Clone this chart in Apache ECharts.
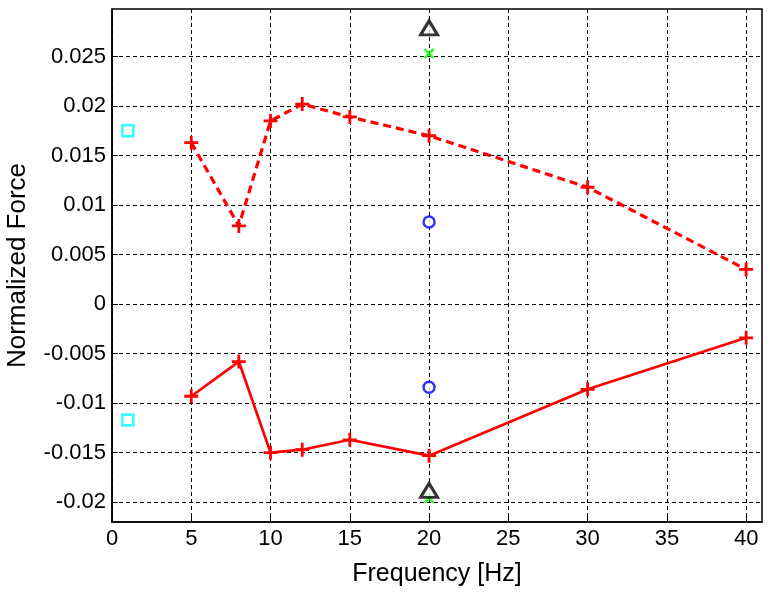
<!DOCTYPE html>
<html>
<head>
<meta charset="utf-8">
<script src="https://cdn.jsdelivr.net/npm/echarts@6/dist/echarts.min.js"></script>
<style>html,body{margin:0;padding:0;background:#fff;}#c{width:773px;height:595px;}</style>
</head>
<body>
<div id="c"></div>
<script>
const freqs = [5, 8, 10, 12, 15, 20, 30, 40];
const upperDashed = [0.0163, 0.0079, 0.0185, 0.0202, 0.0189, 0.0170, 0.0118, 0.0035];
const lowerSolid = [-0.0093, -0.0058, -0.0150, -0.0147, -0.0137, -0.0153, -0.0086, -0.0034];
const squarePts = [[1, 0.0175], [1, -0.0117]];
const circlePts = [[20, 0.0083], [20, -0.0084]];
const greenPts = [[20, 0.0253], [20, -0.0196]];
const trianglePts = [[20, 0.0279], [20, -0.0188]];
const xTicks = [0, 5, 10, 15, 20, 25, 30, 35, 40];
const yTicks = [-0.02, -0.015, -0.01, -0.005, 0, 0.005, 0.01, 0.015, 0.02, 0.025];

const FONT = 'Liberation Sans';
const plusPath = 'path://M4,0H6V4H10V6H6V10H4V6H0V4H4Z';
const crossPath = 'path://M0,1.7L1.7,0L5,3.3L8.3,0L10,1.7L6.7,5L10,8.3L8.3,10L5,6.7L1.7,10L0,8.3L3.3,5Z';
const fmt = v => String(parseFloat(Number(v).toFixed(4)));

const chart = echarts.init(document.getElementById('c'));
chart.setOption({
  animation: false,
  backgroundColor: '#fff',
  grid: { left: 112, right: 11, top: 9, bottom: 73, containLabel: false, outerBoundsMode: 'none',
          show: true, borderColor: '#000', borderWidth: 1.5, backgroundColor: 'transparent' },
  xAxis: {
    type: 'value', min: 0, max: 41,
    name: 'Frequency [Hz]', nameLocation: 'middle', nameGap: 40, nameMoveOverlap: false,
    nameTextStyle: { fontFamily: FONT, fontSize: 25, color: '#000' },
    axisLine: { show: true, onZero: false, lineStyle: { color: '#000', width: 1.5 } },
    axisTick: { show: true, inside: true, length: 6, customValues: xTicks, lineStyle: { color: '#000' } },
    axisLabel: { customValues: xTicks, fontFamily: FONT, fontSize: 22, color: '#000', margin: 6, formatter: fmt },
    splitLine: { show: true, lineStyle: { color: '#000', type: [4, 3], width: 1 } }
  },
  yAxis: {
    type: 'value', min: -0.022, max: 0.0298,
    name: 'Normalized Force', nameLocation: 'middle', nameGap: 81, nameMoveOverlap: false,
    nameTextStyle: { fontFamily: FONT, fontSize: 26, color: '#000' },
    axisLine: { show: true, onZero: false, lineStyle: { color: '#000', width: 1.5 } },
    axisTick: { show: true, inside: true, length: 6, customValues: yTicks, lineStyle: { color: '#000' } },
    axisLabel: { customValues: yTicks, fontFamily: FONT, fontSize: 22, color: '#000', margin: 6, formatter: fmt },
    splitLine: { show: true, lineStyle: { color: '#000', type: [4, 3], width: 1 } }
  },
  series: [
    {
      type: 'line', data: freqs.map((f, i) => [f, upperDashed[i]]),
      lineStyle: { color: '#ff0000', width: 3.2, type: [8, 5] },
      symbol: plusPath, symbolSize: 14, itemStyle: { color: '#ff0000' }
    },
    {
      type: 'line', data: freqs.map((f, i) => [f, lowerSolid[i]]),
      lineStyle: { color: '#ff0000', width: 2.7 },
      symbol: plusPath, symbolSize: 14, itemStyle: { color: '#ff0000' }
    },
    {
      type: 'scatter', data: squarePts, symbol: 'rect', symbolSize: 11,
      itemStyle: { color: '#fff', borderColor: '#00ffff', borderWidth: 2.5 }
    },
    {
      type: 'scatter', data: circlePts, symbol: 'circle', symbolSize: 11,
      itemStyle: { color: '#fff', borderColor: '#0000ff', borderWidth: 2.5 }
    },
    {
      type: 'scatter', data: greenPts, symbol: crossPath, symbolSize: 11,
      itemStyle: { color: '#00ff00' }
    },
    {
      type: 'scatter', data: trianglePts, symbol: 'triangle', symbolSize: [17, 14],
      itemStyle: { color: '#fff', borderColor: '#000', borderWidth: 3 }
    }
  ]
});
</script>
</body>
</html>
